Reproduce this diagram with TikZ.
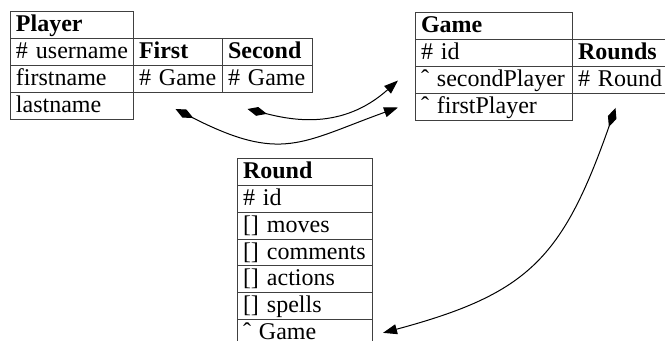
\documentclass[tikz,border=0pt]{standalone}
\usepackage{fontspec}
\setmainfont{Liberation Serif}
\usetikzlibrary{arrows.meta}

% one table cell: name, left x, top y, width (all in picture units), text
\def\rowh{27}
\newcommand\tcell[5]{%
  \pgfmathsetmacro\cellw{#4*0.5-5.5}%
  \node[cell, minimum width=#4*0.5pt, minimum height=\rowh*0.5pt, text width=\cellw pt]
    (#1) at (#2,#3) {\mbox{#5}};}

\begin{document}
\begin{tikzpicture}[x=0.5pt,y=-0.5pt,
  cell/.style={draw=black!75, line width=0.5pt, anchor=north west,
    inner xsep=2.75pt, inner ysep=0pt, text height=8.5pt, text depth=2pt,
    align=left, font=\fontsize{12}{14}\selectfont},
  link/.style={line width=0.5pt,
    {Diamond[length=10pt,width=4.5pt]}-{Triangle[length=7pt,width=5pt]}}]
\useasboundingbox (0,0) rectangle (665,341);

% Player
\tcell{player}{10}{11.5}{123}{\textbf{Player}}
\tcell{username}{10}{38.5}{123}{\# username}
\tcell{firstname}{10}{65.5}{123}{firstname}
\tcell{lastname}{10}{92.5}{123}{lastname}
\tcell{firsthead}{133}{38.5}{89}{\textbf{First}}
\tcell{firstgame}{133}{65.5}{89}{\# Game}
\tcell{secondhead}{222}{38.5}{90}{\textbf{Second}}
\tcell{secondgame}{222}{65.5}{90}{\# Game}

% Game
\tcell{game}{415}{12}{157}{\textbf{Game}}
\tcell{gameid}{415}{39}{157}{\# id}
\tcell{secondplayer}{415}{66}{157}{ˆ secondPlayer}
\tcell{firstplayer}{415}{93}{157}{ˆ firstPlayer}
\tcell{roundshead}{572}{39}{100}{\textbf{Rounds}}
\tcell{roundsround}{572}{66}{100}{\# Round}

% Round
\def\rowh{26.75}
\tcell{round}{237}{158.5}{135}{\textbf{Round}}
\tcell{roundid}{237}{185.25}{135}{\# id}
\tcell{moves}{237}{212}{135}{[] moves}
\tcell{comments}{237}{238.75}{135}{[] comments}
\tcell{actions}{237}{265.5}{135}{[] actions}
\tcell{spells}{237}{292.25}{135}{[] spells}
\tcell{roundgame}{237}{319}{135}{ˆ Game}

% references
\draw[link] ([shift={(-2.5,15.5)}]firstgame.south)
  .. controls +(106,54) and +(-97,35) .. ([shift={(-17,0.5)}]firstplayer.west);
\draw[link] ([shift={(-20,15.5)}]secondgame.south)
  .. controls +(44,11) and +(-56,50) .. ([shift={(-17,0.5)}]secondplayer.west);
\draw[link] ([shift={(-7,14)}]roundsround.south)
  .. controls +(-53,151) and +(145,-39) .. ([shift={(10,0)}]roundgame.east);
\end{tikzpicture}
\end{document}
